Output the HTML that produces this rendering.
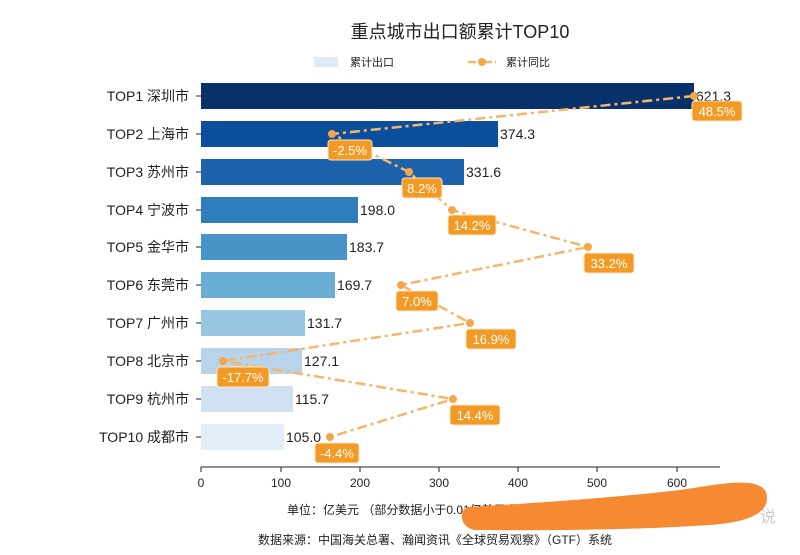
<!DOCTYPE html>
<html><head><meta charset="utf-8"><style>
body{margin:0;background:#fff;}
svg text{font-family:"Liberation Sans","Noto Sans CJK SC",sans-serif;}
</style></head><body>
<svg width="800" height="550" xmlns="http://www.w3.org/2000/svg">
<rect width="800" height="550" fill="#fff"/>
<text x="460" y="38" font-size="18" text-anchor="middle" fill="#222">重点城市出口额累计TOP10</text>
<rect x="314" y="57" width="24" height="10" fill="#deebf7"/>
<text x="350" y="66" font-size="11" fill="#222">累计出口</text>
<line x1="468" y1="62" x2="496" y2="62" stroke="#f5b56a" stroke-width="2.5" stroke-dasharray="8,3,2,3"/>
<circle cx="482" cy="62" r="4" fill="#f5a54a"/>
<text x="506" y="66" font-size="11" fill="#222">累计同比</text>
<g id="bars">
<rect x="201" y="83" width="493" height="26" fill="#08306b"/>
<rect x="201" y="121" width="297" height="26" fill="#0b4f9c"/>
<rect x="201" y="159" width="263" height="26" fill="#1c63ac"/>
<rect x="201" y="197" width="157" height="26" fill="#2f7ebc"/>
<rect x="201" y="234" width="146" height="26" fill="#4694c8"/>
<rect x="201" y="272" width="134" height="26" fill="#6aaed6"/>
<rect x="201" y="310" width="104" height="26" fill="#98c5e0"/>
<rect x="201" y="348" width="101" height="26" fill="#b7d4ea"/>
<rect x="201" y="386" width="92" height="26" fill="#d0e2f2"/>
<rect x="201" y="424" width="83" height="26" fill="#e1edf8"/>
</g>
<g font-size="14" fill="#222" text-anchor="end">
<text x="189" y="101">TOP1 深圳市</text>
<text x="189" y="139">TOP2 上海市</text>
<text x="189" y="177">TOP3 苏州市</text>
<text x="189" y="215">TOP4 宁波市</text>
<text x="189" y="252">TOP5 金华市</text>
<text x="189" y="290">TOP6 东莞市</text>
<text x="189" y="328">TOP7 广州市</text>
<text x="189" y="366">TOP8 北京市</text>
<text x="189" y="404">TOP9 杭州市</text>
<text x="189" y="442">TOP10 成都市</text>
</g>
<g stroke="#222" stroke-width="1">
<line x1="196" y1="96" x2="201" y2="96"/><line x1="196" y1="134" x2="201" y2="134"/>
<line x1="196" y1="172" x2="201" y2="172"/><line x1="196" y1="210" x2="201" y2="210"/>
<line x1="196" y1="247" x2="201" y2="247"/><line x1="196" y1="285" x2="201" y2="285"/>
<line x1="196" y1="323" x2="201" y2="323"/><line x1="196" y1="361" x2="201" y2="361"/>
<line x1="196" y1="399" x2="201" y2="399"/><line x1="196" y1="437" x2="201" y2="437"/>
<line x1="201" y1="467" x2="720" y2="467"/>
<line x1="201" y1="467" x2="201" y2="472"/><line x1="281" y1="467" x2="281" y2="472"/>
<line x1="360" y1="467" x2="360" y2="472"/><line x1="439" y1="467" x2="439" y2="472"/>
<line x1="518" y1="467" x2="518" y2="472"/><line x1="597" y1="467" x2="597" y2="472"/>
<line x1="677" y1="467" x2="677" y2="472"/>
</g>
<g font-size="12" fill="#222" text-anchor="middle">
<text x="201" y="487">0</text><text x="281" y="487">100</text><text x="360" y="487">200</text>
<text x="439" y="487">300</text><text x="518" y="487">400</text><text x="597" y="487">500</text><text x="677" y="487">600</text>
</g>
<g font-size="14" fill="#222">
<text x="696" y="101">621.3</text><text x="500" y="139">374.3</text><text x="466" y="177">331.6</text>
<text x="360" y="215">198.0</text><text x="349" y="252">183.7</text><text x="337" y="290">169.7</text>
<text x="307" y="328">131.7</text><text x="304" y="366">127.1</text><text x="295" y="404">115.7</text><text x="286" y="442">105.0</text>
</g>
<polyline points="694,96 332,134 409,172 452,210 588,247 401,285 470,323 223,361 453,399 330,437" fill="none" stroke="#f5b56a" stroke-width="2.5" stroke-dasharray="10,4,3,4"/>
<g fill="#f5a54a">
<circle cx="694" cy="96" r="4"/><circle cx="332" cy="134" r="4"/><circle cx="409" cy="172" r="4"/>
<circle cx="452" cy="210" r="4"/><circle cx="588" cy="247" r="4"/><circle cx="401" cy="285" r="4"/>
<circle cx="470" cy="323" r="4"/><circle cx="223" cy="361" r="4"/><circle cx="453" cy="399" r="4"/><circle cx="330" cy="437" r="4"/>
</g>
<g fill="#f39a25" stroke="#fde6c8" stroke-width="1">
<rect x="692" y="101" width="50" height="20" rx="3"/>
<rect x="328" y="140" width="44" height="20" rx="3"/>
<rect x="402" y="178" width="40" height="20" rx="3"/>
<rect x="448" y="215" width="48" height="20" rx="3"/>
<rect x="584" y="253" width="50" height="20" rx="3"/>
<rect x="396" y="291" width="42" height="20" rx="3"/>
<rect x="466" y="329" width="50" height="20" rx="3"/>
<rect x="217" y="367" width="52" height="20" rx="3"/>
<rect x="450" y="405" width="50" height="20" rx="3"/>
<rect x="315" y="443" width="44" height="20" rx="3"/>
</g>
<g font-size="13" fill="#fff" text-anchor="middle">
<text x="717" y="116">48.5%</text><text x="350" y="155">-2.5%</text><text x="422" y="193">8.2%</text>
<text x="472" y="230">14.2%</text><text x="609" y="268">33.2%</text><text x="417" y="306">7.0%</text>
<text x="491" y="344">16.9%</text><text x="243" y="382">-17.7%</text><text x="475" y="420">14.4%</text><text x="337" y="458">-4.4%</text>
</g>
<text x="287" y="514" font-size="12" fill="#222">单位：亿美元  （部分数据小于0.01亿美元会显示为0.00）</text>
<text x="258" y="544" font-size="12" fill="#222">数据来源：中国海关总署、瀚闻资讯《全球贸易观察》（GTF）系统</text>
<text x="760" y="522" font-size="16" fill="#ccc">说</text>
<path d="M468,507 C540,503 620,497 680,490 C720,484 758,476 766,492 C772,512 750,522 710,525 C650,529 570,531 475,530 C460,528 458,510 468,507 Z" fill="#f58a32"/>
</svg>
</body></html>
